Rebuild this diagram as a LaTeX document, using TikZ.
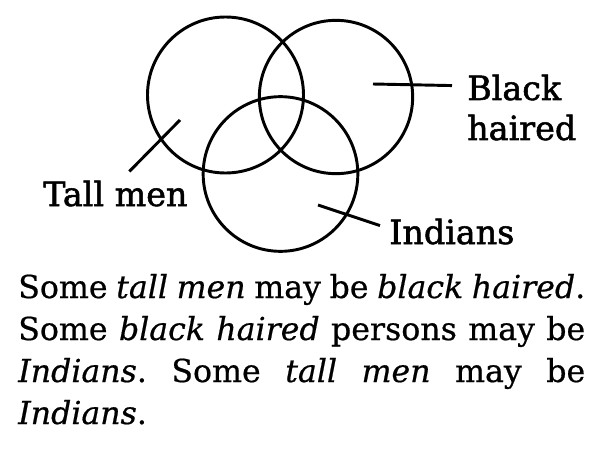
\documentclass[tikz,border=0pt]{standalone}
\usepackage{fontspec}
\setmainfont{DejaVu Serif}[FakeBold=0.6]
\newfontfamily\labelfont{DejaVu Serif}[FakeBold=1.6]
\frenchspacing
\tikzset{
  venn/.style={draw, circle, line width=2.2pt, inner sep=0pt, minimum size=#1},
  pointer/.style={line width=2.2pt},
  setlabel/.style={inner sep=0pt, font=\labelfont\fontsize{25}{30}\selectfont}
}
\begin{document}
\begin{tikzpicture}[x=0.75pt, y=-0.75pt]
        \useasboundingbox (0,0) rectangle (604,453);
        % the three sets
        \node[venn=117pt] (tall) at (225.5,95) {};
        \node[venn=115pt] (black) at (336,97) {};
        \node[venn=116pt] (indian) at (280.5,174) {};
        % labels
        \node[setlabel, anchor=base west] (tallmen) at (43,206) {Tall men};
        \node[setlabel, anchor=base west] (blacklab) at (467,100) {Black};
        \node[setlabel, anchor=base west] (hairedlab) at (467,140) {haired};
        \node[setlabel, anchor=base west] (indianlab) at (389,244) {Indians};
        % pointers from inside the circles
        \coordinate (tallin) at (180,120);
        \coordinate (blackin) at (373,84);
        \coordinate (indianin) at (318,205);
        \draw[pointer] (tallin) -- ([shift={(14,-9)}]tallmen.north);
        \draw[pointer] (blackin) -- ([shift={(-15,-2)}]blacklab.west);
        \draw[pointer] (indianin) -- ([shift={(-9,-6)}]indianlab.west);
        % the statement below
        \node[inner sep=0pt, anchor=base west, text width=425.25pt, align=justify,
              font=\fontsize{23.7}{31.5}\selectfont] (statement) at (18,298)
            {Some \textit{tall men} may be \textit{black haired}.\linebreak
             Some \textit{black haired} persons may be\linebreak
             \textit{Indians}. Some \textit{tall men} may be\linebreak
             \textit{Indians}.};
    \end{tikzpicture}
\end{document}
